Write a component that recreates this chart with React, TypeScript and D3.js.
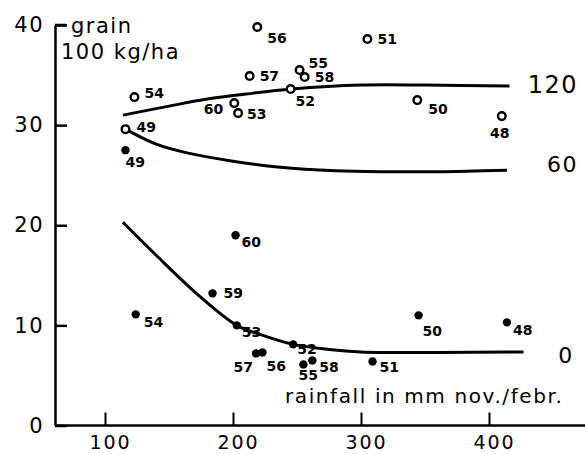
import React, { useEffect, useRef } from 'react';
import * as d3 from 'd3';

const yTicks = [0, 10, 20, 30, 40];
const xTicks = [100, 200, 300, 400];

// open circles (120 kg N)
const years120 = ['54', '49', '60', '53', '57', '56', '52', '55', '58', '51', '50', '48'];
const rain120 = [123, 116, 201, 204, 213, 219, 245, 252, 256, 305, 344, 410];
const grain120 = [32.8, 29.6, 32.2, 31.2, 34.9, 39.8, 33.6, 35.5, 34.8, 38.6, 32.5, 30.9];

// filled dots
const yearsFilled = ['49', '60', '59', '54', '53', '57', '56', '52', '58', '55', '51', '50', '48'];
const rainFilled = [116, 202, 184, 124, 203, 218, 223, 247, 262, 255, 309, 345, 414];
const grainFilled = [27.5, 19.0, 13.2, 11.1, 10.0, 7.2, 7.3, 8.1, 6.5, 6.1, 6.4, 11.0, 10.3];

// fitted response curves
const curve120Rain = [114, 150, 180, 210, 246, 300, 350, 416];
const curve120Grain = [31.0, 31.9, 32.6, 33.1, 33.6, 34.0, 34.0, 33.9];
const curve60Rain = [116, 140, 165, 200, 237, 280, 315, 360, 414];
const curve60Grain = [29.6, 28.1, 27.2, 26.4, 25.8, 25.45, 25.35, 25.35, 25.5];
const curve0Rain = [114, 140, 174, 203, 221, 247, 275, 300, 360, 427];
const curve0Grain = [20.3, 17.0, 12.9, 10.0, 9.1, 8.1, 7.6, 7.35, 7.3, 7.35];

// label offsets [dx, dy, anchor]
const openLabelPos: Record<string, [number, number, string]> = {
  '54': [10, -4, 'start'], '49': [11, -2, 'start'], '60': [-11, 6, 'end'],
  '53': [9, 1, 'start'], '57': [10, 0, 'start'], '56': [10, 11, 'start'],
  '52': [5, 12, 'start'], '55': [9, -7, 'start'], '58': [10, 0, 'start'],
  '51': [10, 0, 'start'], '50': [11, 9, 'start'], '48': [-2, 17, 'middle'],
};
const filledLabelPos: Record<string, [number, number, string]> = {
  '49': [0, 12, 'start'], '60': [6, 7, 'start'], '59': [11, 0, 'start'],
  '54': [8, 8, 'start'], '53': [5, 7, 'start'], '57': [-3, 14, 'end'],
  '56': [4, 14, 'start'], '52': [4, 5, 'start'], '58': [7, 7, 'start'],
  '55': [-5, 10.5, 'start'], '51': [7, 6, 'start'], '50': [4, 16, 'start'],
  '48': [6, 8, 'start'],
};

const W = 585, H = 454;
const FONT = 'DejaVu Sans, sans-serif';

const App = () => {
  const ref = useRef<SVGSVGElement | null>(null);

  useEffect(() => {
    if (!ref.current) return;
    const svg = d3.select(ref.current);
    svg.selectAll('*').remove();

    const x = d3.scaleLinear().domain([100, 400]).range([105, 489]);
    const y = d3.scaleLinear().domain([0, 40]).range([425.5, 25]);
    const x0 = 55;

    // y axis
    const yAxis = svg.append('g')
      .attr('transform', `translate(${x0},0)`)
      .call(d3.axisLeft(y).tickValues(yTicks).tickSizeInner(-12).tickSizeOuter(0).tickPadding(11).tickFormat(d3.format('d')));
    yAxis.select('.domain').attr('stroke', '#000').attr('stroke-width', 2.5);
    yAxis.selectAll('.tick line').attr('stroke', '#000').attr('stroke-width', 2.5);
    yAxis.selectAll('.tick text')
      .attr('font-family', FONT).attr('font-size', 21).attr('fill', '#000')
      .attr('letter-spacing', 1.5);

    // x axis
    const xAxis = svg.append('g')
      .attr('transform', `translate(0,${y(0)})`)
      .call(d3.axisBottom(x).tickValues(xTicks).tickSizeInner(-13).tickSizeOuter(0).tickPadding(10).tickFormat(d3.format('d')));
    xAxis.select('.domain').attr('d', `M${x0},0H${W}`).attr('stroke', '#000').attr('stroke-width', 2.5);
    xAxis.selectAll('.tick line').attr('stroke', '#000').attr('stroke-width', 2);
    xAxis.selectAll('.tick text')
      .attr('font-family', FONT).attr('font-size', 19).attr('fill', '#000')
      .attr('letter-spacing', 2).attr('dx', 5);

    // axis titles
    svg.append('line').attr('x1', x0).attr('x2', x0 + 11).attr('y1', y(40)).attr('y2', y(40))
      .attr('stroke', '#000').attr('stroke-width', 2.5);
    svg.append('text').attr('x', 71).attr('y', 33).text('grain')
      .attr('font-family', FONT).attr('font-size', 21).attr('letter-spacing', 1.5);
    svg.append('text').attr('x', 61).attr('y', 59).text('100 kg/ha')
      .attr('font-family', FONT).attr('font-size', 21).attr('letter-spacing', 1.5);
    svg.append('text').attr('x', 285).attr('y', 403).text('rainfall in mm nov./febr.')
      .attr('font-family', FONT).attr('font-size', 20).attr('letter-spacing', 1.6);

    // curves
    const line = d3.line<[number, number]>().x(d => x(d[0])).y(d => y(d[1])).curve(d3.curveCatmullRom.alpha(0.5));
    const curves: [number[], number[]][] = [
      [curve120Rain, curve120Grain],
      [curve60Rain, curve60Grain],
      [curve0Rain, curve0Grain],
    ];
    curves.forEach(([r, g]) => {
      svg.append('path')
        .attr('d', line(r.map((v, i) => [v, g[i]] as [number, number])))
        .attr('fill', 'none').attr('stroke', '#000').attr('stroke-width', 3);
    });

    // curve labels
    const curveLabels: [string, number, number, string, number][] = [
      ['120', 578, 93, 'end', 24],
      ['60', 578, 172, 'end', 22],
      ['0', 566, 363, 'middle', 22],
    ];
    curveLabels.forEach(([t, lx, ly, a, fs]) => {
      svg.append('text').attr('x', lx).attr('y', ly).attr('text-anchor', a)
        .attr('font-family', FONT).attr('font-size', fs).attr('letter-spacing', 1.5).text(t);
    });

    // open circles
    years120.forEach((yr, i) => {
      const cx = x(rain120[i]), cy = y(grain120[i]);
      svg.append('circle').attr('cx', cx).attr('cy', cy).attr('r', 3.8)
        .attr('fill', '#fff').attr('stroke', '#000').attr('stroke-width', 2.4);
      const [dx, dy, a] = openLabelPos[yr];
      svg.append('text').attr('x', cx + dx).attr('y', cy + dy).attr('dy', '0.36em')
        .attr('text-anchor', a).attr('font-family', FONT).attr('font-size', 14)
        .attr('font-weight', 'bold').text(yr);
    });

    // filled dots
    yearsFilled.forEach((yr, i) => {
      const cx = x(rainFilled[i]), cy = y(grainFilled[i]);
      svg.append('circle').attr('cx', cx).attr('cy', cy).attr('r', 4.2).attr('fill', '#000');
      const [dx, dy, a] = filledLabelPos[yr];
      svg.append('text').attr('x', cx + dx).attr('y', cy + dy).attr('dy', '0.36em')
        .attr('text-anchor', a).attr('font-family', FONT).attr('font-size', 14)
        .attr('font-weight', 'bold').text(yr);
    });
  }, []);

  return (
    <svg ref={ref} width={W} height={H}
      style={{ position: 'absolute', left: 0, top: 0, background: '#fff' }} />
  );
};

export default App;
